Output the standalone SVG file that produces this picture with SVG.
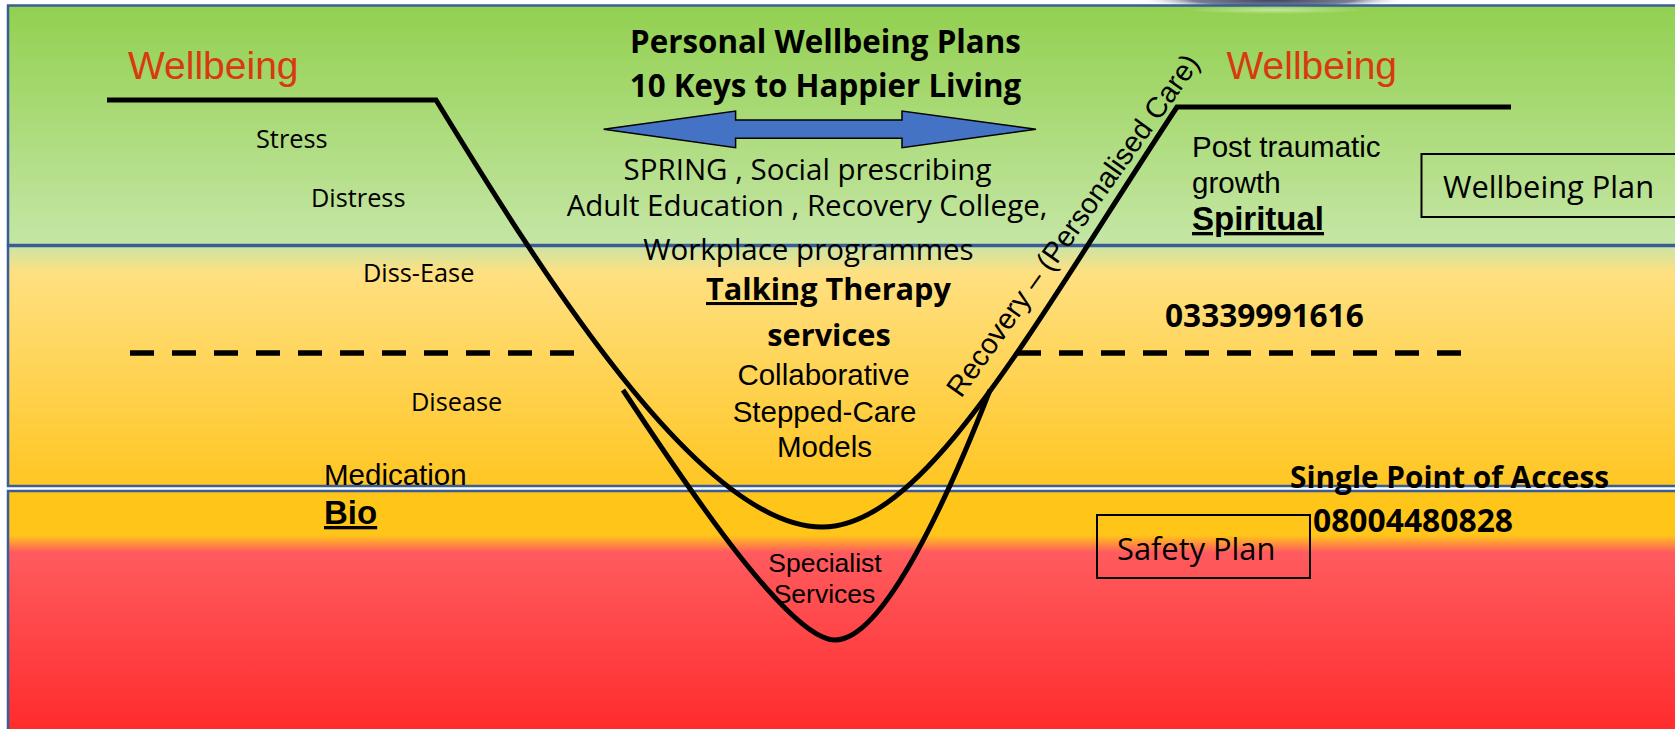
<svg xmlns="http://www.w3.org/2000/svg" width="1675" height="729" viewBox="0 0 1675 729">
<defs>
  <linearGradient id="gGreen" x1="0" y1="0" x2="0" y2="1">
    <stop offset="0" stop-color="#92D050"/>
    <stop offset="1" stop-color="#C5E6A5"/>
  </linearGradient>
  <linearGradient id="gYellow" x1="0" y1="0" x2="0" y2="1">
    <stop offset="0" stop-color="#CDE4A3"/>
    <stop offset="0.04" stop-color="#DCE399"/>
    <stop offset="0.11" stop-color="#FFE081"/>
    <stop offset="1" stop-color="#FFC623"/>
  </linearGradient>
  <linearGradient id="gRed" x1="0" y1="0" x2="0" y2="1">
    <stop offset="0" stop-color="#FFC619"/>
    <stop offset="0.18" stop-color="#FFC619"/>
    <stop offset="0.25" stop-color="#FF5B5E"/>
    <stop offset="1" stop-color="#FF2A2B"/>
  </linearGradient>
  <radialGradient id="gShadow" cx="0.5" cy="0.5" r="0.5">
    <stop offset="0" stop-color="#3E4560"/>
    <stop offset="0.6" stop-color="#7A7F95"/>
    <stop offset="1" stop-color="#FFFFFF" stop-opacity="0"/>
  </radialGradient>
  <radialGradient id="gGlow" cx="0.5" cy="0.5" r="0.5">
    <stop offset="0" stop-color="#D8F0C0" stop-opacity="0.7"/>
    <stop offset="1" stop-color="#D8F0C0" stop-opacity="0"/>
  </radialGradient>
</defs>
<style>
  .band { stroke: #3A5D96; stroke-width: 2.5; }
  .line { fill: none; stroke: #000; stroke-width: 5; stroke-linejoin: miter; }
  .dash { stroke: #000; stroke-width: 5.5; stroke-dasharray: 24 18; }
  .cal { font-family: "Open Sans", "Liberation Sans", sans-serif; fill: #000; }
  .ari { font-family: "Liberation Sans", Arial, sans-serif; fill: #000; }
  .b { font-weight: bold; }
  .red { fill: #D8390E; }
  .box { fill: none; stroke: #000; stroke-width: 2; }
  .mid { text-anchor: middle; }
  .ul { text-decoration: underline; }
</style>

<rect x="0" y="0" width="1675" height="729" fill="#FFFFFF"/>

<!-- top shadow of an oval partly off-page -->
<ellipse cx="1273" cy="0" rx="135" ry="9" fill="url(#gShadow)"/>

<!-- bands -->
<g id="bands">
  <rect x="8" y="5.5" width="1680" height="239.5" fill="url(#gGreen)" class="band"/>
  <rect x="8" y="246" width="1680" height="240" fill="url(#gYellow)" class="band"/>
  <rect x="8" y="491" width="1680" height="245" fill="url(#gRed)" class="band"/>
  <ellipse cx="1275" cy="10" rx="90" ry="4" fill="url(#gGlow)"/>
</g>

<!-- connectors / curves -->
<g id="connectors">
  <path class="line" d="M107,100 L436,100 C540,270 700,527 822,527 C925,527 1032,327 1177,107 L1511,107"/>
  <path class="line" d="M623,390 C689,490 790,640 835,640 C885,640 951,490 990,390"/>
  <line class="dash" x1="130" y1="353" x2="574" y2="353"/>
  <line class="dash" x1="1017" y1="353" x2="1461" y2="353"/>
  <polygon points="603.6,129.3 735.6,111 735.6,120 902,120 902,111 1036,129.3 902,147.7 902,138.3 735.6,138.3 735.6,147.7" fill="#4472C4" stroke="#000" stroke-width="1.5" stroke-linejoin="miter"/>
</g>

<!-- left labels -->
<g id="wellbeing-left"><text class="ari red" x="128" y="79" font-size="39">Wellbeing</text></g>
<g id="stress"><text class="cal" x="256" y="148" font-size="25.3">Stress</text></g>
<g id="distress"><text class="cal" x="311" y="207" font-size="25.3">Distress</text></g>
<g id="diss-ease"><text class="cal" x="363" y="282" font-size="25.3">Diss-Ease</text></g>
<g id="disease"><text class="cal" x="411" y="411" font-size="25.3">Disease</text></g>
<g id="medication"><text class="ari" x="324" y="485" font-size="29.5">Medication</text></g>
<g id="bio"><text class="ari b ul" x="324" y="524" font-size="33">Bio</text></g>

<!-- centre labels -->
<g id="personal-plans">
  <text class="cal b mid" x="825.5" y="53" font-size="31.3">Personal Wellbeing Plans</text>
  <text class="cal b mid" x="825.5" y="97" font-size="31.3">10 Keys to Happier Living</text>
</g>
<g id="community">
  <text class="cal mid" x="807.5" y="180" font-size="29.5">SPRING , Social prescribing</text>
  <text class="cal mid" x="807" y="216" font-size="29.5">Adult Education , Recovery College,</text>
  <text class="cal mid" x="808.5" y="260" font-size="29.5">Workplace programmes</text>
</g>
<g id="talking-therapy">
  <text class="cal b mid" x="828.5" y="300" font-size="30.7"><tspan class="ul">Talking</tspan> Therapy</text>
  <text class="cal b mid" x="829" y="346" font-size="30.7">services</text>
</g>
<g id="stepped-care">
  <text class="ari mid" x="823.5" y="385" font-size="29.5">Collaborative</text>
  <text class="ari mid" x="824.5" y="422" font-size="29.5">Stepped-Care</text>
  <text class="ari mid" x="824.5" y="457" font-size="29.5">Models</text>
</g>
<g id="specialist">
  <text class="ari mid" x="825" y="572" font-size="26.5">Specialist</text>
  <text class="ari mid" x="824.5" y="603" font-size="26.5">Services</text>
</g>
<g id="recovery">
  <text class="ari" transform="translate(961,399) rotate(-54.5)" x="0" y="0" font-size="29">Recovery – (Personalised Care)</text>
</g>

<!-- right labels -->
<g id="wellbeing-right"><text class="ari red" x="1226.5" y="79" font-size="39">Wellbeing</text></g>
<g id="spiritual">
  <text class="ari" x="1192" y="157" font-size="29.5">Post traumatic</text>
  <text class="ari" x="1192" y="193" font-size="29.5">growth</text>
  <text class="ari b ul" x="1192" y="230" font-size="33">Spiritual</text>
</g>
<g id="wellbeing-plan">
  <rect class="box" x="1421.5" y="154" width="270" height="63"/>
  <text class="cal" x="1443" y="198" font-size="30.8">Wellbeing Plan</text>
</g>
<g id="phone-1"><text class="cal b" x="1165" y="327" font-size="31.6">03339991616</text></g>
<g id="single-point">
  <text class="cal b" x="1290" y="488" font-size="29.8">Single Point of Access</text>
  <text class="cal b" x="1313" y="532" font-size="31.8">08004480828</text>
</g>
<g id="safety-plan">
  <rect class="box" x="1097" y="515" width="213" height="63"/>
  <text class="cal" x="1117" y="560" font-size="30.8">Safety Plan</text>
</g>
</svg>
